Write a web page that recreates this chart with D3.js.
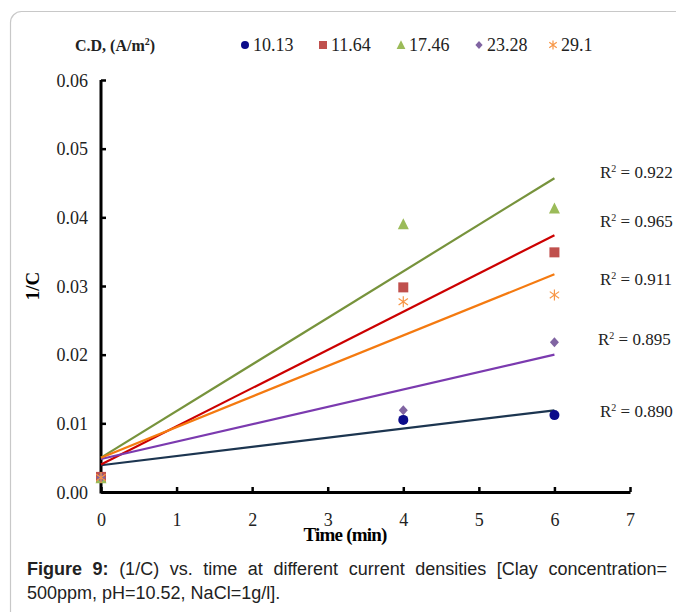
<!DOCTYPE html>
<html><head><meta charset="utf-8">
<script src="https://cdn.jsdelivr.net/npm/d3@7"></script>
<style>body{margin:0;background:#fff}svg{display:block}</style>
</head><body>
<script>
// ---- data ----
const times = [0, 4, 6];
const seriesNames = ["10.13", "11.64", "17.46", "23.28", "29.1"];
const vals1013 = [0.0021, 0.0105, 0.0112];
const vals1164 = [0.0022, 0.0298, 0.0349];
const vals1746 = [0.0020, 0.0390, 0.0413];
const vals2328 = [0.0021, 0.0119, 0.0218];
const vals291  = [0.0021, 0.0277, 0.0287];
// trendline values at t=0 and t=6
const trendStart = [0.0039, 0.0040, 0.0050, 0.0048, 0.0050];
const trendEnd   = [0.0119, 0.0374, 0.0457, 0.0200, 0.0317];
const r2Labels = ["0.890", "0.965", "0.922", "0.895", "0.911"];
const xTicks = [0, 1, 2, 3, 4, 5, 6, 7];
const yTicks = [0, 0.01, 0.02, 0.03, 0.04, 0.05, 0.06];

const allVals = [vals1013, vals1164, vals1746, vals2328, vals291];
const markerColors = ["#0b0b8a", "#c0504d", "#9bbb59", "#8064a2", "#f79646"];
const lineColors = ["#1c3550", "#cc0000", "#77933c", "#7b3aaf", "#f47a10"];
const shapes = ["circle", "square", "triangle", "diamond", "asterisk"];
const r2Pos = [[600, 411], [600, 221], [600, 172], [598, 339], [600, 279]];

const W = 676, H = 612;
const svg = d3.select("body").append("svg").attr("width", W).attr("height", H);

// border box
svg.append("rect").attr("x", 10.5).attr("y", 11.5).attr("width", 700).attr("height", 640)
  .attr("rx", 11).attr("fill", "none").attr("stroke", "#c8c8c8").attr("stroke-width", 1.2);

const x = d3.scaleLinear().domain([0, 7]).range([101, 630]);
const y = d3.scaleLinear().domain([0, 0.06]).range([492, 80]);

const serif = "'Liberation Serif','Times New Roman',serif";

// axes
const yAxis = d3.axisLeft(y).tickValues(yTicks).tickFormat(d3.format(".2f")).tickSizeInner(-5).tickSizeOuter(0).tickPadding(13);
const gy = svg.append("g").attr("transform", `translate(${x(0)},0)`).call(yAxis);
const xAxis = d3.axisBottom(x).tickValues(xTicks).tickFormat(d3.format("d")).tickSizeInner(-5).tickSizeOuter(0).tickPadding(21);
const gx = svg.append("g").attr("transform", `translate(0,${y(0)})`).call(xAxis);
[gx, gy].forEach(g => {
  g.attr("font-family", serif);
  g.select(".domain").attr("stroke", "#000").attr("stroke-width", 3);
  g.selectAll(".tick line").attr("stroke", "#000").attr("stroke-width", 2.5);
  g.selectAll("text").attr("font-family", serif).attr("font-size", 18).attr("fill", "#222");
});
gy.select(".domain").attr("d", `M0,${y(0.06)}V${y(0)+1.5}`);
gy.selectAll(".tick text").attr("dy", "0.35em");

// axis titles
svg.append("text").attr("x", 345).attr("y", 541).attr("text-anchor", "middle")
  .attr("font-family", serif).attr("font-weight", "bold").attr("font-size", 19).attr("letter-spacing", -0.8).text("Time (min)");
svg.append("text").attr("transform", "translate(39,286) rotate(-90)").attr("text-anchor", "middle")
  .attr("font-family", serif).attr("font-weight", "bold").attr("font-size", 19).text("1/C");

// trend lines
const trendG = svg.append("g");
seriesNames.forEach((s, i) => {
  trendG.append("line")
    .attr("x1", x(times[0])).attr("y1", y(trendStart[i]))
    .attr("x2", x(times[2])).attr("y2", y(trendEnd[i]))
    .attr("stroke", lineColors[i]).attr("stroke-width", 2.2);
});

function drawMarker(g, shape, cx, cy, color, scale) {
  const s = scale || 1;
  if (shape === "circle") g.append("circle").attr("cx", cx).attr("cy", cy).attr("r", 5 * s).attr("fill", color);
  else if (shape === "square") g.append("rect").attr("x", cx - 5 * s).attr("y", cy - 5 * s).attr("width", 10 * s).attr("height", 10 * s).attr("fill", color);
  else if (shape === "triangle") g.append("path").attr("d", `M${cx},${cy - 6 * s}L${cx + 5.5 * s},${cy + 5 * s}L${cx - 5.5 * s},${cy + 5 * s}Z`).attr("fill", color);
  else if (shape === "diamond") g.append("path").attr("d", `M${cx},${cy - 5 * s}L${cx + 4.5 * s},${cy}L${cx},${cy + 5 * s}L${cx - 4.5 * s},${cy}Z`).attr("fill", color);
  else if (shape === "asterisk") {
    const r = 5.5 * s;
    g.append("path").attr("d", `M${cx},${cy - r}V${cy + r}M${cx - r * 0.85},${cy - r * 0.6}L${cx + r * 0.85},${cy + r * 0.6}M${cx - r * 0.85},${cy + r * 0.6}L${cx + r * 0.85},${cy - r * 0.6}`)
      .attr("stroke", color).attr("stroke-width", 1.2).attr("fill", "none");
  }
}

// markers
const markG = svg.append("g");
allVals.forEach((vals, i) => {
  vals.forEach((v, j) => drawMarker(markG, shapes[i], x(times[j]), y(v), markerColors[i]));
});

// R² labels
seriesNames.forEach((s, i) => {
  const t = svg.append("text").attr("x", r2Pos[i][0]).attr("y", r2Pos[i][1] + 6)
    .attr("font-family", serif).attr("font-size", 17).attr("fill", "#222");
  t.append("tspan").text("R");
  t.append("tspan").attr("font-size", 10).attr("dy", -6).text("2");
  t.append("tspan").attr("dy", 6).text(" = " + r2Labels[i]);
});

// legend
const lt = svg.append("text").attr("x", 75).attr("y", 51).attr("font-family", serif)
  .attr("font-weight", "bold").attr("font-size", 16).attr("fill", "#222");
lt.append("tspan").text("C.D, (A/m");
lt.append("tspan").attr("font-size", 10).attr("dy", -6).text("2");
lt.append("tspan").attr("dy", 6).text(")");
const legX = [245, 323, 401, 479, 553];
const legG = svg.append("g");
seriesNames.forEach((s, i) => {
  drawMarker(legG, shapes[i], legX[i], 45, markerColors[i], 0.8);
  legG.append("text").attr("x", legX[i] + 8).attr("y", 51).attr("font-family", serif)
    .attr("font-size", 18).attr("fill", "#222").text(s);
});

// caption (justified first line)
const sans = "'Liberation Sans',Arial,sans-serif";
const line1 = [["Figure", true], ["9:", true], ["(1/C)", false], ["vs.", false], ["time", false], ["at", false], ["different", false], ["current", false], ["densities", false], ["[Clay", false], ["concentration=", false]];
const capG = svg.append("g").attr("font-family", sans).attr("font-size", 18).attr("fill", "#222");
const left = 27, right = 667;
const words = line1.map(([w, b]) => capG.append("text").attr("y", 575).attr("font-weight", b ? "bold" : "normal").text(w));
const widths = words.map(t => t.node().getComputedTextLength());
const total = d3.sum(widths);
const gap = (right - left - total) / (words.length - 1);
let cx = left;
words.forEach((t, k) => { t.attr("x", cx); cx += widths[k] + gap; });
capG.append("text").attr("x", left).attr("y", 599).text("500ppm, pH=10.52, NaCl=1g/l].");
</script>
</body></html>
